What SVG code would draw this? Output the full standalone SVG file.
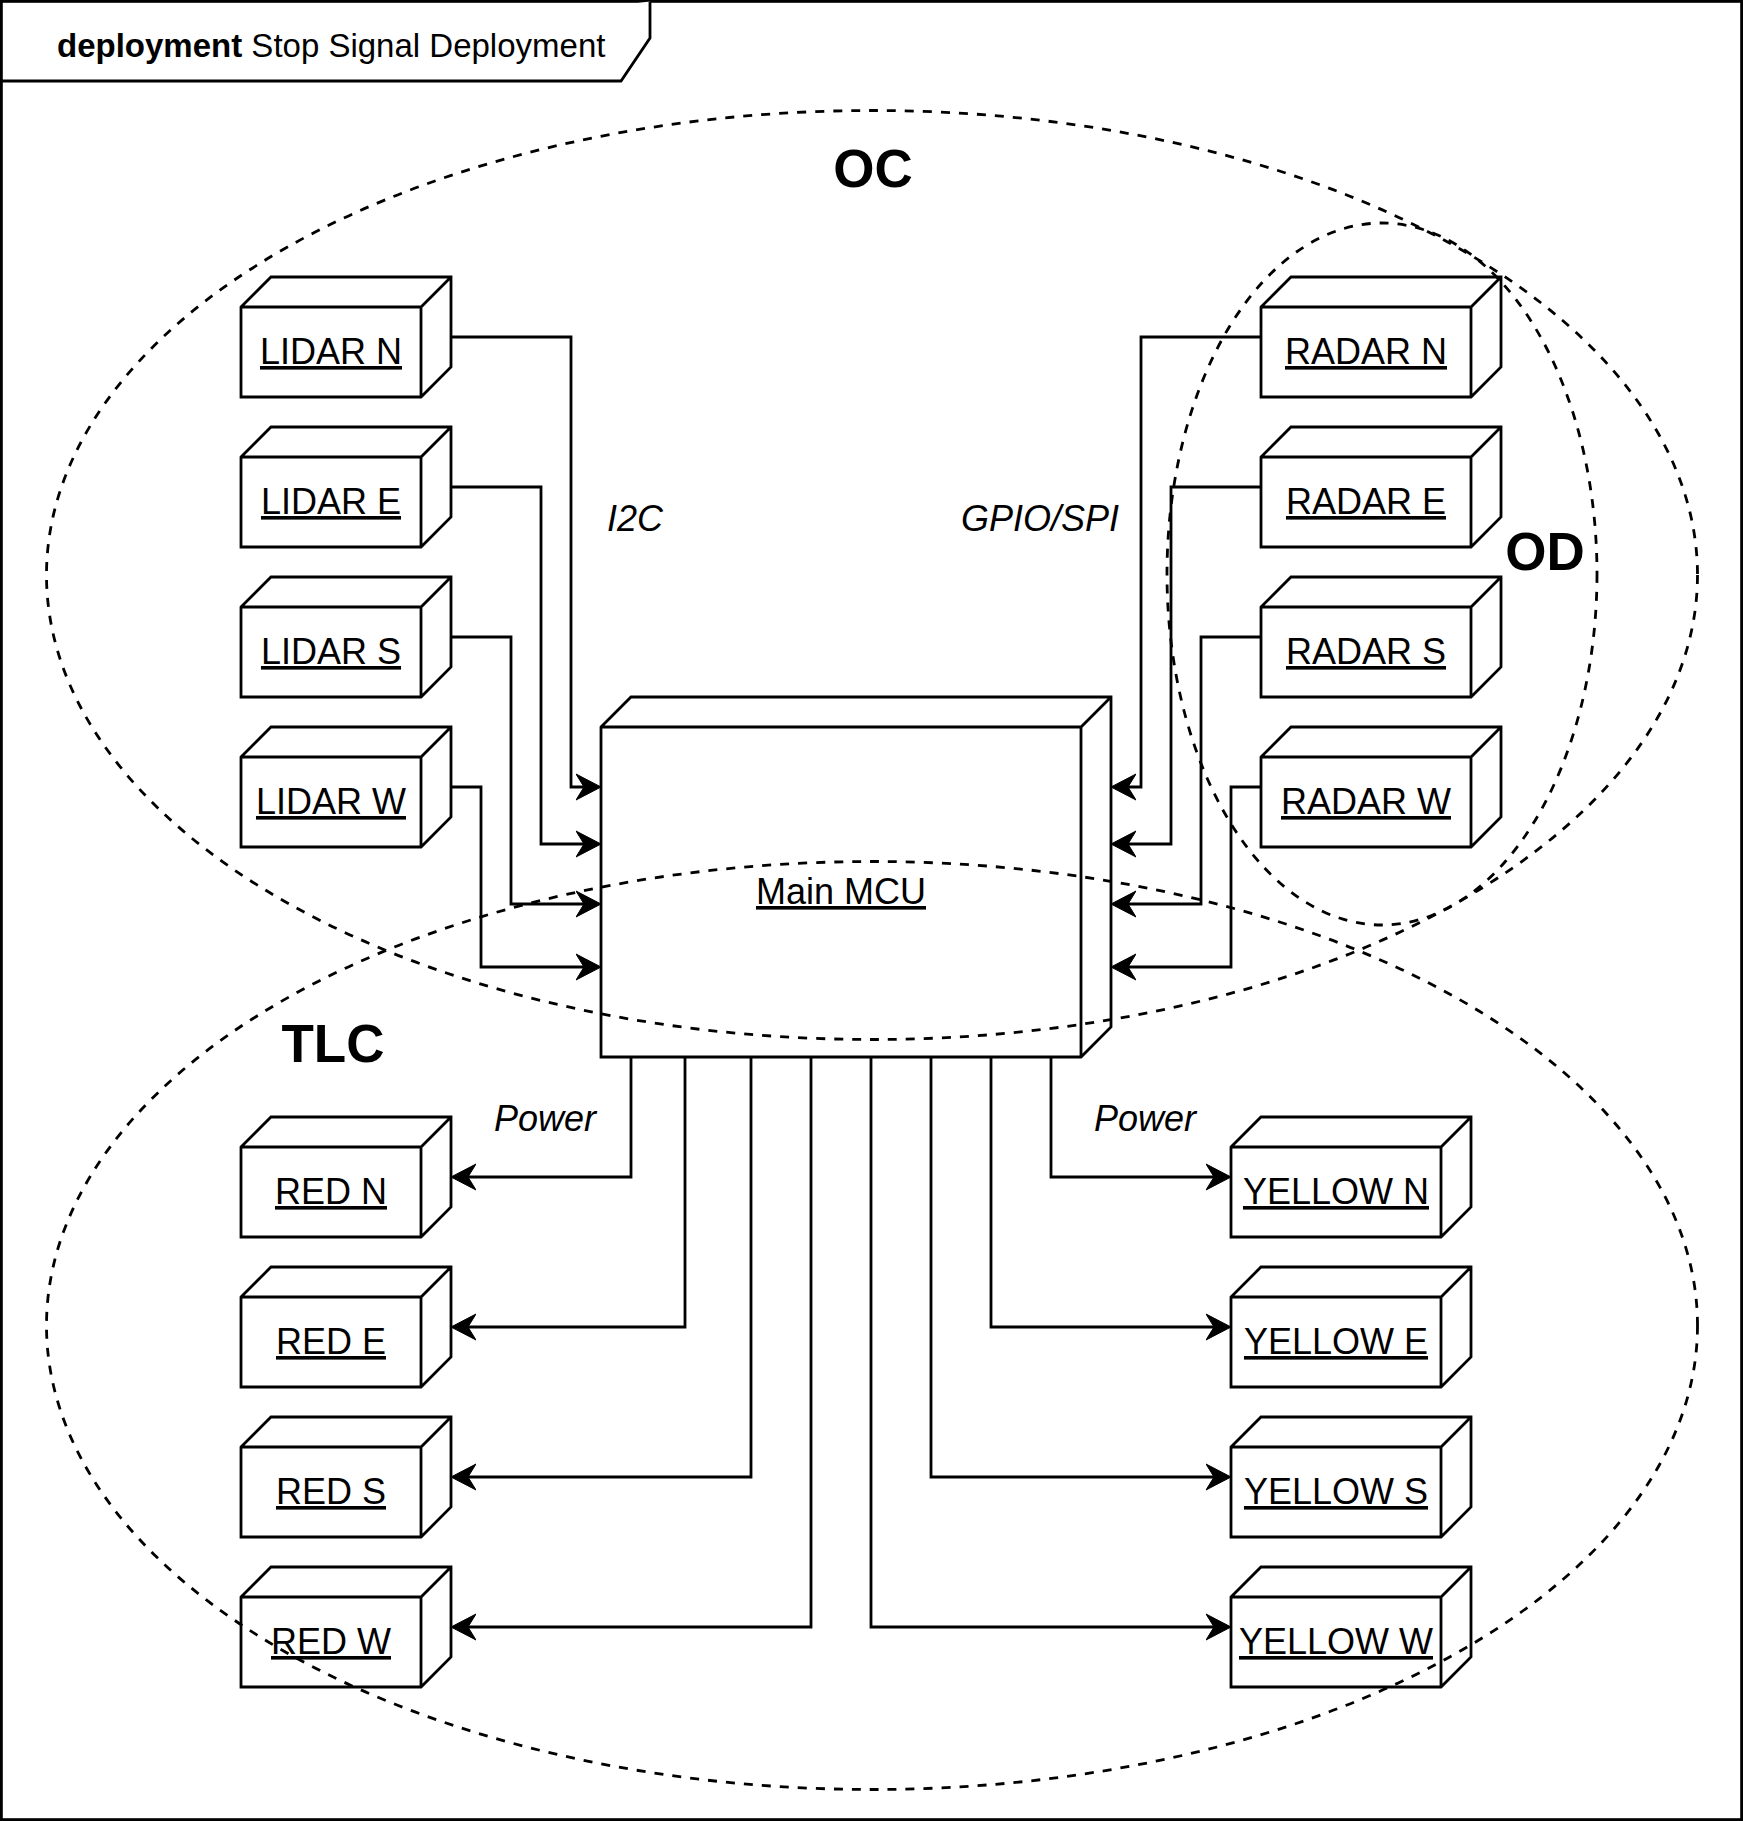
<svg xmlns="http://www.w3.org/2000/svg" width="1743" height="1821" viewBox="0 0 1743 1821">
<style>
.frame{fill:#fff;stroke:#000;stroke-width:2.8}
.box{fill:#fff;stroke:#000;stroke-width:2.8;stroke-linejoin:miter}
.edge{fill:none;stroke:#000;stroke-width:2.8}
.zone{fill:none;stroke:#000;stroke-width:2.8;stroke-dasharray:9 9}
.lbl{font-family:"Liberation Sans",Arial,Helvetica,sans-serif;font-size:36px;text-anchor:middle;text-decoration:underline;fill:#000}
.it{font-family:"Liberation Sans",Arial,Helvetica,sans-serif;font-size:36px;font-style:italic;text-anchor:middle;fill:#000}
.big{font-family:"Liberation Sans",Arial,Helvetica,sans-serif;font-size:53px;font-weight:bold;text-anchor:middle;fill:#000}
.title{font-family:"Liberation Sans",Arial,Helvetica,sans-serif;font-size:33px;fill:#000}
</style>
<defs>
<marker id="arr" markerUnits="userSpaceOnUse" markerWidth="26" markerHeight="28" viewBox="0 0 26 28" refX="8" refY="14" orient="auto">
<path d="M25,14 L0,1 L8,14 L0,27 Z" fill="#000" stroke="#000" stroke-width="1"/>
</marker>
</defs>
<g id="frame">
<rect class="frame" x="1.4" y="1.4" width="1740.2" height="1818.2"/>
<path class="box" d="M1.4,81 H621 L650,38 V1.4"/>
<text class="title" x="57" y="57"><tspan font-weight="bold">deployment</tspan> Stop Signal Deployment</text>
</g>
<g id="lidar-n"><path class="box" d="M241,307 L271,277 H451 V367 L421,397 H241 Z M241,307 H421 L451,277 M421,307 V397"/><text class="lbl" x="331" y="364">LIDAR N</text></g>
<g id="lidar-e"><path class="box" d="M241,457 L271,427 H451 V517 L421,547 H241 Z M241,457 H421 L451,427 M421,457 V547"/><text class="lbl" x="331" y="514">LIDAR E</text></g>
<g id="lidar-s"><path class="box" d="M241,607 L271,577 H451 V667 L421,697 H241 Z M241,607 H421 L451,577 M421,607 V697"/><text class="lbl" x="331" y="664">LIDAR S</text></g>
<g id="lidar-w"><path class="box" d="M241,757 L271,727 H451 V817 L421,847 H241 Z M241,757 H421 L451,727 M421,757 V847"/><text class="lbl" x="331" y="814">LIDAR W</text></g>
<g id="radar-n"><path class="box" d="M1261,307 L1291,277 H1501 V367 L1471,397 H1261 Z M1261,307 H1471 L1501,277 M1471,307 V397"/><text class="lbl" x="1366" y="364">RADAR N</text></g>
<g id="radar-e"><path class="box" d="M1261,457 L1291,427 H1501 V517 L1471,547 H1261 Z M1261,457 H1471 L1501,427 M1471,457 V547"/><text class="lbl" x="1366" y="514">RADAR E</text></g>
<g id="radar-s"><path class="box" d="M1261,607 L1291,577 H1501 V667 L1471,697 H1261 Z M1261,607 H1471 L1501,577 M1471,607 V697"/><text class="lbl" x="1366" y="664">RADAR S</text></g>
<g id="radar-w"><path class="box" d="M1261,757 L1291,727 H1501 V817 L1471,847 H1261 Z M1261,757 H1471 L1501,727 M1471,757 V847"/><text class="lbl" x="1366" y="814">RADAR W</text></g>
<g id="main-mcu"><path class="box" d="M601,727 L631,697 H1111 V1027 L1081,1057 H601 Z M601,727 H1081 L1111,697 M1081,727 V1057"/><text class="lbl" x="841" y="904">Main MCU</text></g>
<g id="red-n"><path class="box" d="M241,1147 L271,1117 H451 V1207 L421,1237 H241 Z M241,1147 H421 L451,1117 M421,1147 V1237"/><text class="lbl" x="331" y="1204">RED N</text></g>
<g id="red-e"><path class="box" d="M241,1297 L271,1267 H451 V1357 L421,1387 H241 Z M241,1297 H421 L451,1267 M421,1297 V1387"/><text class="lbl" x="331" y="1354">RED E</text></g>
<g id="red-s"><path class="box" d="M241,1447 L271,1417 H451 V1507 L421,1537 H241 Z M241,1447 H421 L451,1417 M421,1447 V1537"/><text class="lbl" x="331" y="1504">RED S</text></g>
<g id="red-w"><path class="box" d="M241,1597 L271,1567 H451 V1657 L421,1687 H241 Z M241,1597 H421 L451,1567 M421,1597 V1687"/><text class="lbl" x="331" y="1654">RED W</text></g>
<g id="yellow-n"><path class="box" d="M1231,1147 L1261,1117 H1471 V1207 L1441,1237 H1231 Z M1231,1147 H1441 L1471,1117 M1441,1147 V1237"/><text class="lbl" x="1336" y="1204">YELLOW N</text></g>
<g id="yellow-e"><path class="box" d="M1231,1297 L1261,1267 H1471 V1357 L1441,1387 H1231 Z M1231,1297 H1441 L1471,1267 M1441,1297 V1387"/><text class="lbl" x="1336" y="1354">YELLOW E</text></g>
<g id="yellow-s"><path class="box" d="M1231,1447 L1261,1417 H1471 V1507 L1441,1537 H1231 Z M1231,1447 H1441 L1471,1417 M1441,1447 V1537"/><text class="lbl" x="1336" y="1504">YELLOW S</text></g>
<g id="yellow-w"><path class="box" d="M1231,1597 L1261,1567 H1471 V1657 L1441,1687 H1231 Z M1231,1597 H1441 L1471,1567 M1441,1597 V1687"/><text class="lbl" x="1336" y="1654">YELLOW W</text></g>
<g id="connectors">
<path class="edge" marker-end="url(#arr)" d="M451,337 H571 V787 H584"/>
<path class="edge" marker-end="url(#arr)" d="M451,487 H541 V844 H584"/>
<path class="edge" marker-end="url(#arr)" d="M451,637 H511 V904 H584"/>
<path class="edge" marker-end="url(#arr)" d="M451,787 H481 V967 H584"/>
<path class="edge" marker-end="url(#arr)" d="M1261,337 H1141 V787 H1128"/>
<path class="edge" marker-end="url(#arr)" d="M1261,487 H1171 V844 H1128"/>
<path class="edge" marker-end="url(#arr)" d="M1261,637 H1201 V904 H1128"/>
<path class="edge" marker-end="url(#arr)" d="M1261,787 H1231 V967 H1128"/>
<path class="edge" marker-end="url(#arr)" d="M631,1057 V1177 H468"/>
<path class="edge" marker-end="url(#arr)" d="M685,1057 V1327 H468"/>
<path class="edge" marker-end="url(#arr)" d="M751,1057 V1477 H468"/>
<path class="edge" marker-end="url(#arr)" d="M811,1057 V1627 H468"/>
<path class="edge" marker-end="url(#arr)" d="M1051,1057 V1177 H1214"/>
<path class="edge" marker-end="url(#arr)" d="M991,1057 V1327 H1214"/>
<path class="edge" marker-end="url(#arr)" d="M931,1057 V1477 H1214"/>
<path class="edge" marker-end="url(#arr)" d="M871,1057 V1627 H1214"/>
<text class="it" x="635" y="531">I2C</text>
<text class="it" x="1040" y="531">GPIO/SPI</text>
<text class="it" x="545" y="1131">Power</text>
<text class="it" x="1145" y="1131">Power</text>
</g>
<g id="oc">
<ellipse class="zone" cx="872" cy="575" rx="825.5" ry="464.5"/>
<text class="big" x="873" y="187">OC</text>
</g>
<g id="od">
<ellipse class="zone" cx="1382" cy="574" rx="215" ry="351"/>
<text class="big" x="1545" y="570">OD</text>
</g>
<g id="tlc">
<ellipse class="zone" cx="872" cy="1325.5" rx="825.5" ry="464"/>
<text class="big" x="333" y="1062">TLC</text>
</g>
</svg>
